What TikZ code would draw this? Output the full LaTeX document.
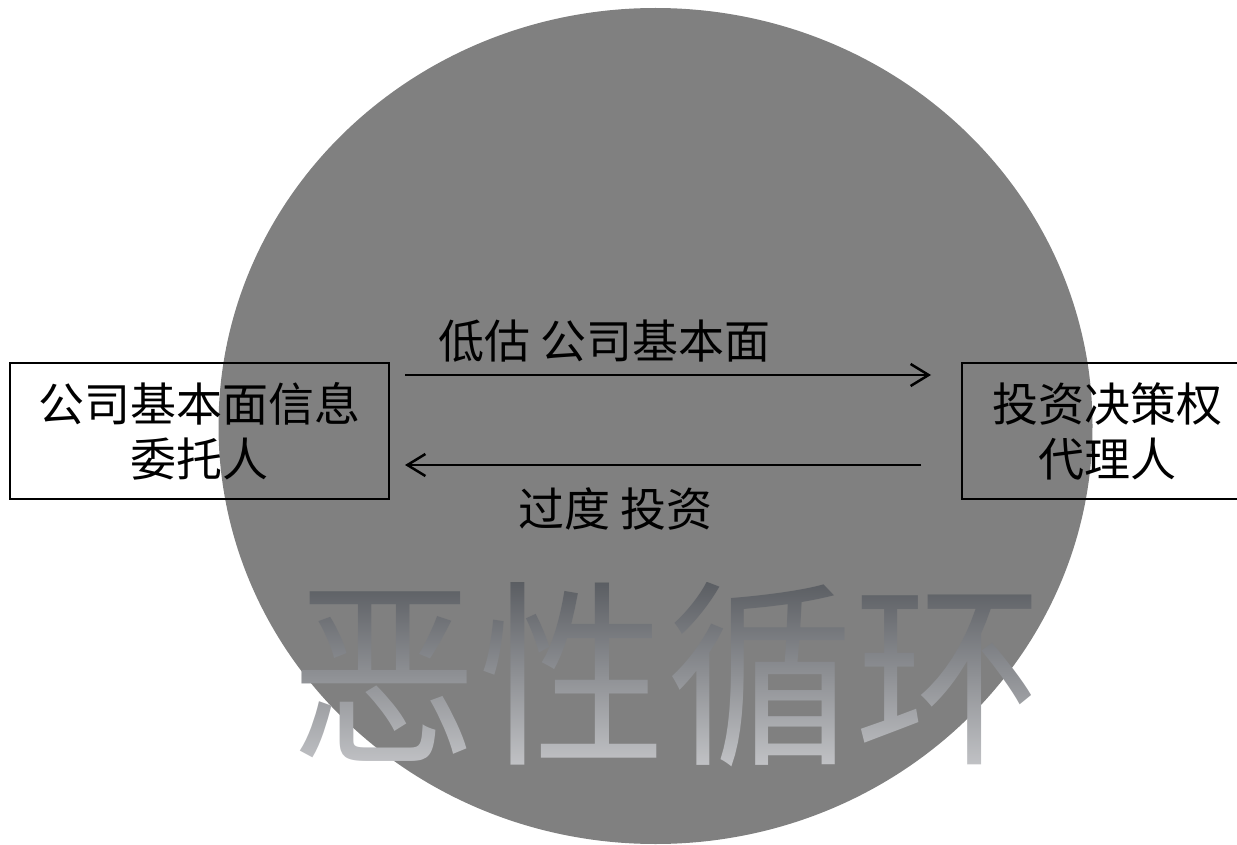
\documentclass[tikz,border=0pt]{standalone}
\usepackage{fontspec}
\newfontfamily\cjk{Noto Sans CJK SC}
\usetikzlibrary{shapes.geometric,arrows.meta,fadings}
\definecolor{circgray}{HTML}{808080}
\definecolor{gradtop}{HTML}{54575C}
\definecolor{gradbot}{HTML}{C9CACD}
\begin{tikzfadingfrompicture}[name=bigtext]
  \node[text=transparent!0, font=\cjk\fontsize{188}{200}\selectfont, yscale=1.06, inner sep=0pt] {恶性循环};
\end{tikzfadingfrompicture}
\tikzset{
  box/.style={draw=black, line width=2pt, align=center, inner sep=0pt,
    minimum height=136pt, font=\cjk\fontsize{46}{55}\selectfont},
  lbl/.style={font=\cjk\fontsize{46}{55}\selectfont, inner sep=0pt},
  arr/.style={line width=2.5pt, -{Straight Barb[length=18pt,width=22pt,line width=2.5pt]}}
}
\begin{document}
\begin{tikzpicture}[x=1pt,y=-1pt]
  \useasboundingbox (0,0) rectangle (1237,845);
  \node[ellipse, fill=circgray, minimum width=874pt, minimum height=836pt, inner sep=0pt] (circ) at (655.5,426) {};
  \shade[path fading=bigtext, fit fading=false, fading transform={shift={(667,675)}},
    top color=gradtop, bottom color=gradbot] (270,570) rectangle (1070,780);
  \node[box, minimum width=379pt] (principal) at (199.5,431) {公司基本面信息\\委托人};
  \node[box, minimum width=290pt] (agent) at (1107,431) {投资决策权\\代理人};
  \draw[arr] ([shift={(15pt,56pt)}]principal.east) -- ([shift={(-30pt,56pt)}]agent.west);
  \draw[arr] ([shift={(-40pt,-34pt)}]agent.west) -- ([shift={(15pt,-34pt)}]principal.east);
  \node[lbl] (under) at (604.5,341) {低估 公司基本面};
  \node[lbl] (over) at (615.5,509) {过度 投资};
\end{tikzpicture}
\end{document}
